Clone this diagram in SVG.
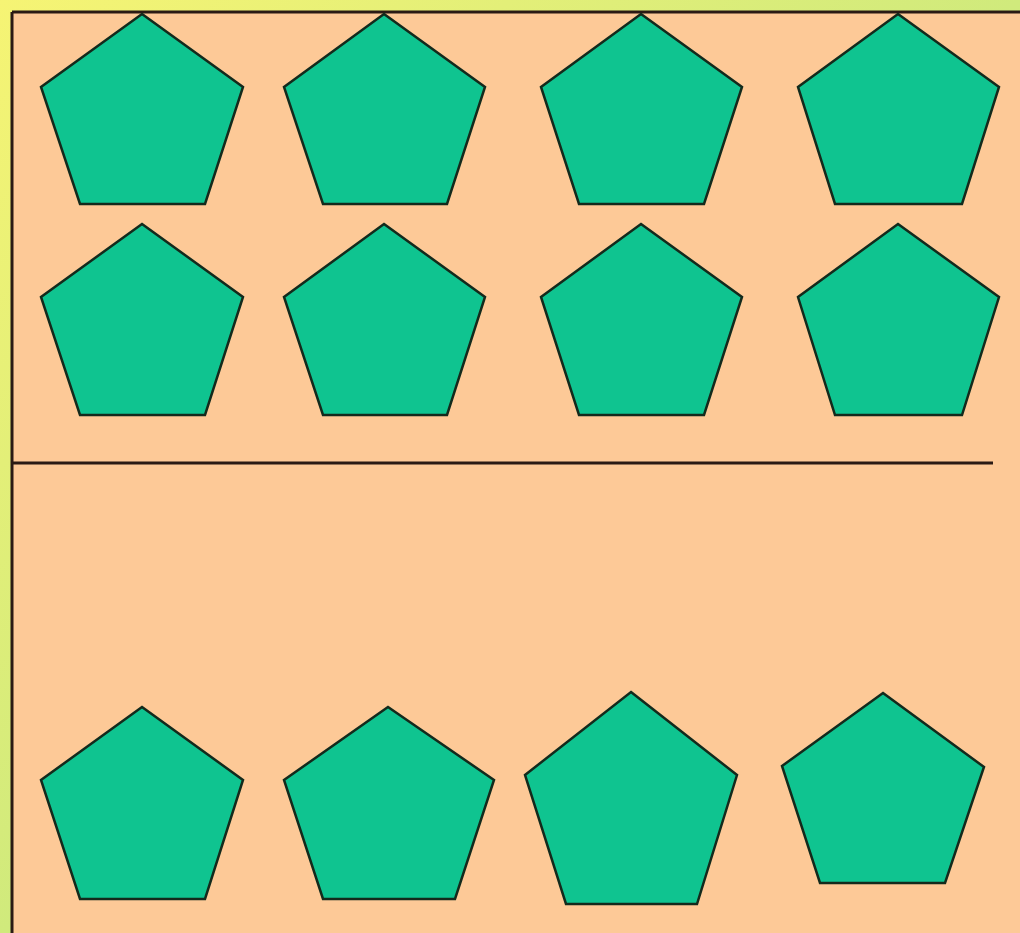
<svg xmlns="http://www.w3.org/2000/svg" width="1020" height="933" viewBox="0 0 1020 933">
<defs>
<linearGradient id="bg" x1="0" y1="0" x2="1" y2="1">
<stop offset="0" stop-color="#f6f474"/>
<stop offset="0.5" stop-color="#d0ea7c"/>
<stop offset="1" stop-color="#b0dc78"/>
</linearGradient>
<style>
.p{fill:#0fc490;stroke:#132a1c;stroke-width:2.5;stroke-linejoin:miter}
.ln{stroke:#2a1a14;stroke-width:3;fill:none}
</style>
</defs>
<rect x="0" y="0" width="1020" height="933" fill="url(#bg)"/>
<rect x="12" y="12" width="1010" height="925" fill="#fdc997"/>
<g id="border">
<line class="ln" x1="12" y1="12" x2="1020" y2="12"/>
<line class="ln" x1="12" y1="12" x2="12" y2="933"/>
<line class="ln" x1="12" y1="463" x2="993" y2="463"/>
</g>
<g id="row1">
<polygon id="p1" class="p" points="142,14 243,87 205,204 80,204 41,87"/>
<polygon id="p2" class="p" points="384,14 485,87 447,204 323,204 284,87"/>
<polygon id="p3" class="p" points="641,14 742,87 704,204 579,204 541,87"/>
<polygon id="p4" class="p" points="898,14 999,87 962,204 835,204 798,87"/>
</g>
<g id="row2">
<polygon id="p5" class="p" points="142,224 243,297 205,415 80,415 41,297"/>
<polygon id="p6" class="p" points="384,224 485,297 447,415 323,415 284,297"/>
<polygon id="p7" class="p" points="641,224 742,297 704,415 579,415 541,297"/>
<polygon id="p8" class="p" points="898,224 999,297 962,415 835,415 798,297"/>
</g>
<g id="row3">
<polygon id="p9" class="p" points="142,707 243,780 205,899 80,899 41,780"/>
<polygon id="p10" class="p" points="388,707 494,780 455,899 323,899 284,780"/>
<polygon id="p11" class="p" points="631,692 737,775 697,904 566,904 525,775"/>
<polygon id="p12" class="p" points="883,693 984,767 945,883 820,883 782,766"/>
</g>
</svg>
